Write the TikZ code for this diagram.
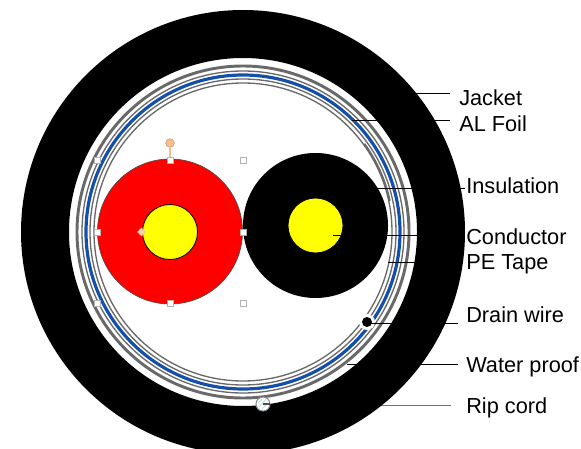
\documentclass[tikz,border=0pt]{standalone}
\usepackage{fontspec}
\setmainfont{Liberation Sans}
\usetikzlibrary{shapes.geometric}
\definecolor{foilblue}{RGB}{20,80,170}
\definecolor{ringgray}{RGB}{105,105,105}
\definecolor{handleorange}{RGB}{250,190,140}
\definecolor{corered}{RGB}{255,0,0}
\definecolor{coreyellow}{RGB}{255,255,0}
\begin{document}
\begin{tikzpicture}[x=0.75pt,y=-0.75pt,
  lbl/.style={anchor=west,inner sep=0pt,font=\fontsize{16.3}{18}\selectfont},
  handle/.style={draw=black!30,fill=white,line width=0.6pt,minimum size=4.5pt,inner sep=0pt},
  ring/.style={draw=ringgray,line width=#1},ring/.default=0.7pt]
  \path[use as bounding box,clip] (0,0) rectangle (581,449);
  % core pairs
  \draw[black!70,fill=corered,line width=0.5pt] (170,231.5) circle (72.5);
  \fill (315.5,225.5) circle (72.5);
  \draw[fill=coreyellow,line width=0.6pt] (170,232) circle (27.5);
  \draw[fill=coreyellow,line width=0.6pt] (315.5,225.5) circle (27.5);
  % tape layers
  \draw[ring=2.2pt] (243,232) circle (166);
  \draw[ring=1pt] (243,232) circle (161);
  \draw[foilblue,line width=2.4pt] (243,232) circle (157);
  \draw[ring=1pt] (243,232) circle (153);
  \draw[ring=1pt] (243,232) circle (149);
  \draw[ringgray,line width=1.5pt] (243,232) ++(-12:150) arc (-12:-36:150);
  % drain wire
  \fill[white] (367,322) circle (8);
  \fill[black] (367,322) circle (5);
  % labels and leaders
  \foreach \n/\t/\lx/\ly/\yl/\xa/\xb/\c in {
    jacket/Jacket/459/98/93/400/450/black,
    foil/AL Foil/459/124/120/352/450/black,
    insulation/Insulation/466/186/188/377/465/black,
    conductor/Conductor/466/237/235/333/440/black,
    petape/PE Tape/466/264/262/388/440/black,
    drain/Drain wire/466/315/323/367/458/black,
    water/Water proof/466/367/364/347/458/black,
    rip/Rip cord/466/408/405/360/451/black!55}{
    \node[lbl] (\n) at (\lx,\ly) {\t};
    \coordinate (\n-a) at (\xa,\yl);
    \coordinate (\n-b) at (\xb,\yl);
    \draw[\c,line width=0.65pt] (\n-a) -- (\n-b);
  }
  % jacket
  \fill[black,even odd rule] (243,232) circle (222) (243,232) circle (174);
  % rip cord
  \draw[black!45,fill=white,line width=0.8pt] (263,404) circle (7);
  \draw[green!50!blue!25,line width=0.6pt] (259,407) -- (266,399) (258,403) -- (262,399) (262,409) -- (268,403);
  \draw[black!70,line width=0.8pt] (263,404) -- (270,404);
  % selection handles
  \foreach \n/\x/\y in {nw/97/160,n/170/160,ne/243/160,w/97/232,e/243/232,sw/97/303,s/170/303,se/243/303}{
    \node[handle] (h\n) at (\x,\y) {};
  }
  \node[draw=handleorange!80!black,fill=handleorange,circle,minimum size=6.5pt,inner sep=0pt] (hrot) at (170,143) {};
  \draw[handleorange,line width=0.9pt] (hrot) -- (hn);
  \node[draw=handleorange,fill=handleorange!70,diamond,minimum size=6pt,inner sep=0pt] (hadj) at (141.5,232) {};
\end{tikzpicture}
\end{document}
